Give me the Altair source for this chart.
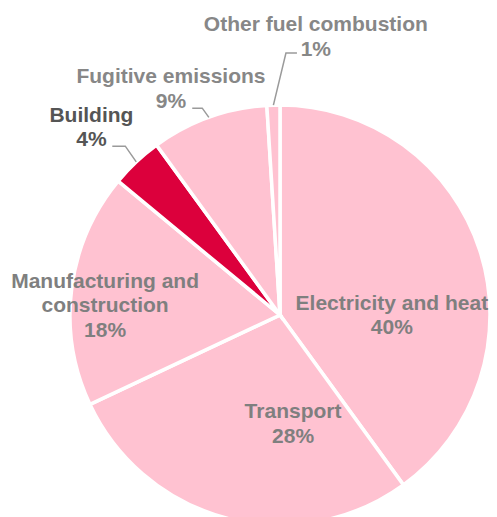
import math
import altair as alt
import pandas as pd

# ---------------- data ----------------
categories = [
    "Electricity and heat",
    "Transport",
    "Manufacturing and construction",
    "Building",
    "Fugitive emissions",
    "Other fuel combustion",
]
shares = [40, 28, 18, 4, 9, 1]
name_lines = [
    ["Electricity and heat"],
    ["Transport"],
    ["Manufacturing and", "construction"],
    ["Building"],
    ["Fugitive emissions"],
    ["Other fuel combustion"],
]
slice_colors = ["#FFC2D1", "#FFC2D1", "#FFC2D1", "#DC003C", "#FFC2D1", "#FFC2D1"]
label_colors = ["#7f7f7f", "#7f7f7f", "#7f7f7f", "#555555", "#878787", "#878787"]

# ---------------- layout ----------------
W, H = 481, 509
CX, CY = 272, 307          # pie centre (view pixels)
R = 210                    # outer radius
FONT = "Liberation Sans"
FS = 21
LH = 24.5
# label anchor: (angle shift from slice mid-angle in degrees, distance from centre in px)
label_place = {
    "Electricity and heat": (15.4, 112),
    "Transport": (-21.6, 104),
    "Manufacturing and construction": (1.6, 177),
    "Building": (-1.1, 270),
    "Fugitive emissions": (-5.4, 256),
    "Other fuel combustion": (9.0, 286),
}
# leader: (elbow angle shift deg, elbow radius px, horizontal run px)
leaders = {
    "Building": (0.7, 229, -13),
    "Fugitive emissions": (-0.8, 221, -10),
    "Other fuel combustion": (3.1, 262, 11),
}

total = sum(shares)
mids = []
acc = 0
for v in shares:
    mids.append((acc + v / 2) / total * 360.0)
    acc += v


def polar(deg, r):
    a = math.radians(deg)
    return CX + r * math.sin(a), CY - r * math.cos(a)


pie_df = pd.DataFrame({
    "category": categories,
    "share": shares,
    "idx": list(range(len(categories))),
})

label_records = []
for i, c in enumerate(categories):
    shift, rad = label_place[c]
    x, y = polar(mids[i] + shift, rad)
    label_records.append({
        "category": c,
        "lines": name_lines[i] + [f"{shares[i]}%"],
        "lx": x,
        "ly": y,
        "tcolor": label_colors[i],
    })

leader_records = []
for i, c in enumerate(categories):
    if c not in leaders:
        continue
    shift, er, run = leaders[c]
    x0, y0 = polar(mids[i], R)
    x1, y1 = polar(mids[i] + shift, er)
    pts = [(x0, y0), (x1, y1), (x1 + run, y1)]
    for k, (px, py) in enumerate(pts):
        leader_records.append({"category": c, "k": k, "px": px, "py": py})

pie = alt.Chart(pie_df).mark_arc(
    outerRadius=R, stroke="white", strokeWidth=3.5
).encode(
    theta=alt.Theta("share:Q", stack=True),
    color=alt.Color("category:N", scale=alt.Scale(domain=categories, range=slice_colors), legend=None),
    order=alt.Order("idx:Q"),
    x=alt.value(CX),
    y=alt.value(CY),
)

leader = alt.Chart(alt.Data(values=leader_records)).mark_line(
    color="#9a9a9a", strokeWidth=1.5
).encode(
    x=alt.X("px:Q", scale=None, axis=None),
    y=alt.Y("py:Q", scale=None, axis=None),
    detail="category:N",
    order=alt.Order("k:Q"),
)

labels = alt.Chart(alt.Data(values=label_records)).mark_text(
    align="center", baseline="alphabetic", font=FONT, fontWeight="bold",
    fontSize=FS, lineHeight=LH,
).encode(
    x=alt.X("lx:Q", scale=None, axis=None),
    y=alt.Y("ly:Q", scale=None, axis=None),
    text=alt.Text("lines:N"),
    color=alt.Color("tcolor:N", scale=None),
)

chart = alt.layer(pie, leader, labels).properties(
    width=W, height=H, padding=0, autosize=alt.AutoSizeParams(type="none")
).configure_view(stroke=None)

chart.save("out.html", embed_options={"renderer": "svg", "actions": False})
